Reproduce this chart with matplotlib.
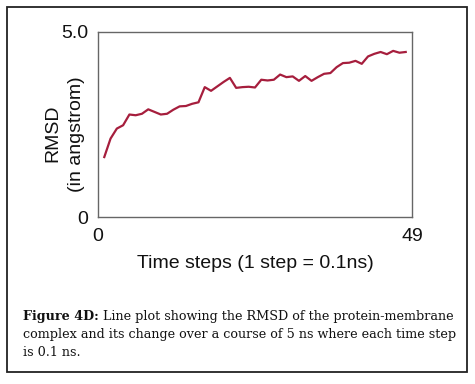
import numpy as np
import matplotlib
matplotlib.use("Agg")
import matplotlib.pyplot as plt
from matplotlib.patches import Rectangle

# Data
time_steps = np.arange(1, 50)
rmsd = [1.62, 2.12, 2.39, 2.48, 2.77, 2.75, 2.79, 2.91, 2.84, 2.77,
        2.79, 2.90, 2.99, 3.00, 3.06, 3.10, 3.51, 3.41, 3.53, 3.65,
        3.76, 3.49, 3.51, 3.52, 3.50, 3.71, 3.69, 3.71, 3.85, 3.78,
        3.80, 3.68, 3.81, 3.68, 3.78, 3.87, 3.89, 4.05, 4.16, 4.17,
        4.22, 4.14, 4.34, 4.41, 4.46, 4.40, 4.49, 4.44, 4.46]
x_tick_labels = ["0", "49"]
y_ticks = [0, 5.0]
y_tick_labels = ["0", "5.0"]
xlabel = "Time steps (1 step = 0.1ns)"
ylabel = "RMSD\n(in angstrom)"
caption_bold = "Figure 4D:"
caption_line1 = " Line plot showing the RMSD of the protein-membrane"
caption_line2 = "complex and its change over a course of 5 ns where each time step"
caption_line3 = "is 0.1 ns."

W, H = 475, 384
fig = plt.figure(figsize=(W / 100, H / 100), dpi=100)
fig.patch.set_facecolor("white")

# outer frame
fig.patches.append(Rectangle((7 / W, 1 - 372 / H), 460 / W, 365 / H,
                             transform=fig.transFigure, fill=False,
                             edgecolor="#222222", linewidth=1.3))

ax = fig.add_axes([98 / W, 1 - 217 / H, 314 / W, 185 / H])
ax.plot(time_steps, rmsd, color="#a61e3d", linewidth=1.6)
ax.set_xlim(0, 50)
ax.set_ylim(0, 5.0)
ax.set_xticks([0, 50], x_tick_labels)
ax.set_yticks(y_ticks, y_tick_labels)
ax.tick_params(length=0, labelsize=14, pad=7, colors="#111111")
ax.tick_params(axis="x", pad=8)
for s in ax.spines.values():
    s.set_color("#666666")
    s.set_linewidth(1.0)

font = "Liberation Sans"
for lbl in ax.get_xticklabels() + ax.get_yticklabels():
    lbl.set_fontfamily(font)

ax.set_xlabel(xlabel, fontsize=14, fontfamily=font, color="#111111")
ax.xaxis.set_label_coords(0.5, -0.205)
ax.set_ylabel(ylabel, fontsize=14, fontfamily=font, color="#111111",
              multialignment="center", linespacing=1.55)
ax.yaxis.set_label_coords(-0.04, 0.45)

# caption
cap_font = "DejaVu Serif"
cap_size = 9.2
x0 = 23 / W
t_bold = fig.text(x0, 1 - 320 / H, caption_bold, fontsize=cap_size,
                  fontfamily=cap_font, fontweight="bold", color="#111111",
                  va="baseline")
fig.canvas.draw()
bb = t_bold.get_window_extent()
fig.text(bb.x1 / W, 1 - 320 / H, caption_line1, fontsize=cap_size,
         fontfamily=cap_font, color="#111111", va="baseline")
fig.text(x0, 1 - 338 / H, caption_line2, fontsize=cap_size,
         fontfamily=cap_font, color="#111111", va="baseline")
fig.text(x0, 1 - 356 / H, caption_line3, fontsize=cap_size,
         fontfamily=cap_font, color="#111111", va="baseline")

fig.savefig("out.png", dpi=100)
